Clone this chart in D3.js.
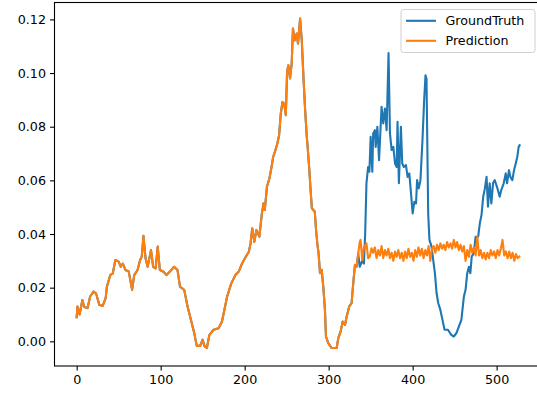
<!DOCTYPE html>
<html>
<head>
<meta charset="utf-8">
<script src="https://cdn.jsdelivr.net/npm/d3@7"></script>
<style>
  body { margin: 0; background: #fff; }
  svg { display: block; }
  text { font-family: "DejaVu Sans", sans-serif; }
</style>
</head>
<body>
<div id="chart"></div>
<script>
// shared stretch: both series lie on top of each other up to ~x=335
var sharedX = [0, 1, 3.5, 6.8, 9, 13, 16, 20, 23, 27, 31, 34.5, 36, 40, 43, 46, 50, 52.5, 55, 58,
  62, 66, 68.5, 72.5, 75.5, 77.5, 79.5, 82, 84.5, 88.5, 91, 94, 96.5, 99, 103, 107, 111, 116, 120, 123,
  128, 132, 136, 140, 143, 147, 150, 152, 155, 158, 163, 169, 173, 179, 184, 189, 193, 197, 201, 205,
  207, 209, 211.5, 214, 217.5, 220.5, 222.5, 224, 226.5, 229.5, 232, 234, 236, 239, 241, 243, 245, 247, 249, 250.5,
  252, 254, 256, 257.5, 259.5, 262, 263.5, 266, 268, 270, 272, 274, 275, 277, 278.5, 280, 283.5, 285, 286.5, 288,
  289.7, 291.7, 293.6, 295.6, 296.8, 299.5, 303.6, 309.5, 311.5, 314.3, 316.7, 319.5, 321.4, 324.5, 327.3, 329.3, 331.3, 333.3, 335.2];
var sharedY = [0.009, 0.013, 0.010, 0.0154, 0.0128, 0.0124, 0.0167, 0.0185, 0.0179, 0.0136, 0.0132, 0.0161, 0.0204, 0.0247, 0.0253, 0.0303, 0.0297, 0.0278, 0.029, 0.0266,
  0.026, 0.0192, 0.0247, 0.0266, 0.0303, 0.0316, 0.0393, 0.031, 0.0278, 0.034, 0.0278, 0.0272, 0.0353, 0.0266, 0.026, 0.0247, 0.026, 0.0278, 0.0266, 0.0204,
  0.0192, 0.013, 0.008, 0.003, -0.0017, -0.0017, 0.0006, -0.0017, -0.0025, 0.0024, 0.0043, 0.0049, 0.0074, 0.0165, 0.0215, 0.0247, 0.026, 0.0291, 0.0313, 0.0334,
  0.0365, 0.0421, 0.0371, 0.0415, 0.039, 0.0477, 0.0514, 0.049, 0.0576, 0.0607, 0.065, 0.0688, 0.0706, 0.0738, 0.0768, 0.0849, 0.0892, 0.0886, 0.0843, 0.1004,
  0.1029, 0.098, 0.1035, 0.1166, 0.1122, 0.1147, 0.111, 0.1203, 0.1122, 0.0985, 0.0862, 0.0762, 0.0725, 0.0638, 0.0564, 0.0496, 0.0483, 0.0415, 0.0365, 0.0328,
  0.0254, 0.0266, 0.0204, 0.0117, 0.0018, -0.0007, -0.0025, -0.0025, 0.0012, 0.0037, 0.0074, 0.0061, 0.0092, 0.013, 0.0142, 0.0217, 0.0285, 0.0278, 0.0328];

// ground truth after the split
var truthX = [337, 340, 342, 343.5, 345, 347, 348.5, 350, 352, 353, 355, 356, 358, 360, 363, 365, 367, 369, 371.3, 373,
  375, 377, 379, 381, 382, 383.6, 386, 387.6, 389.5, 392, 394, 396, 397.4, 400, 402, 404, 405.3, 407.3, 409.3, 411.7,
  413.7, 415.3, 416.5, 418.5, 420, 422.5, 424.5, 426.5, 428.5, 430.5, 433, 435.5, 438, 442, 446, 449, 452, 455, 458, 461,
  463, 465, 467, 468.7, 470.3, 472.7, 475, 478, 480, 482, 484, 486, 488, 489.7, 491.7, 493.7, 495.7, 497.7, 500.4, 503.6,
  505.5, 508.4, 510.8, 512.4, 514.7, 516.3, 518.7, 520.7, 522.7, 524.6, 526.2, 527.4];
var truthY = [0.0278, 0.030, 0.029, 0.0403, 0.0589, 0.065, 0.0632, 0.0762, 0.0632, 0.0775, 0.0787, 0.0725, 0.080, 0.0675, 0.0874, 0.0812, 0.0868, 0.0787, 0.1075, 0.0775,
  0.0713, 0.0725, 0.0663, 0.065, 0.0818, 0.0589, 0.080, 0.0663, 0.065, 0.0657, 0.0613, 0.0626, 0.0576, 0.0477, 0.052, 0.0514, 0.0601, 0.057, 0.0601, 0.075,
  0.0899, 0.0992, 0.0979, 0.0477, 0.0378, 0.0353, 0.0303, 0.0254, 0.0179, 0.0142, 0.0117, 0.008, 0.0043, 0.0043, 0.0024, 0.0018, 0.003, 0.0055, 0.008, 0.0167,
  0.0192, 0.0254, 0.0278, 0.0254, 0.0316, 0.0328, 0.039, 0.039, 0.044, 0.0471, 0.0539, 0.057, 0.0613, 0.0502, 0.0589, 0.0514, 0.0589, 0.0601, 0.0576, 0.0539,
  0.0564, 0.0589, 0.0626, 0.0589, 0.0638, 0.0613, 0.0601, 0.0638, 0.0663, 0.0688, 0.0725, 0.0731];

// prediction after the split
var predX = [337, 338, 340, 342, 345, 347, 349, 351, 353, 355, 357, 359, 361, 363, 365, 367, 369, 371, 373, 375,
  377, 379, 381, 383, 385, 387, 389, 391, 393, 395, 397, 399, 401, 403, 405, 407, 409, 411, 413, 415,
  417, 419, 421, 423, 425, 427, 429, 431, 433, 435, 437, 439, 441, 443, 445, 447, 449, 451, 453, 455,
  457, 459, 461, 463, 465, 467, 469, 471, 473, 475, 477, 479, 481, 483, 485, 487, 489, 491, 493, 495,
  497, 499, 501, 503, 505, 507, 509, 511, 513, 515, 517, 519, 521, 523, 525, 527];
var predY = [0.037, 0.0378, 0.0303, 0.035, 0.0365, 0.031, 0.0316, 0.0347, 0.033, 0.035, 0.031, 0.034, 0.032, 0.0355, 0.031, 0.034, 0.032, 0.0345, 0.031, 0.033,
  0.030, 0.0335, 0.0315, 0.034, 0.031, 0.033, 0.030, 0.0335, 0.031, 0.0345, 0.0315, 0.033, 0.030, 0.034, 0.0315, 0.035, 0.032, 0.0345, 0.031, 0.034,
  0.032, 0.0355, 0.030, 0.0345, 0.0355, 0.033, 0.036, 0.034, 0.0365, 0.0345, 0.036, 0.034, 0.037, 0.035, 0.0365, 0.0345, 0.0378, 0.035, 0.037, 0.034,
  0.036, 0.0335, 0.0355, 0.030, 0.034, 0.0315, 0.036, 0.033, 0.035, 0.032, 0.039, 0.032, 0.034, 0.031, 0.033, 0.0305, 0.033, 0.031, 0.034, 0.032,
  0.0335, 0.031, 0.034, 0.032, 0.0345, 0.0378, 0.032, 0.0335, 0.031, 0.0335, 0.031, 0.033, 0.030, 0.0325, 0.031, 0.0316];

var xTicks = [0, 100, 200, 300, 400, 500];
var yTicks = [0.00, 0.02, 0.04, 0.06, 0.08, 0.10, 0.12];
var seriesNames = ["GroundTruth", "Prediction"];
var seriesColors = ["#1f77b4", "#ff7f0e"];

var width = 537, height = 393;
var margin = { left: 54.5, right: 542, top: 2.5, bottom: 366 };

function zip(xs, ys) {
  return xs.map(function (x, i) { return { x: x, y: ys[i] }; });
}
var shared = zip(sharedX, sharedY);
var truth = shared.concat(zip(truthX, truthY));
var pred = shared.concat(zip(predX, predY));

var x = d3.scaleLinear().domain([-26.4, 554]).range([margin.left, margin.right]);
var y = d3.scaleLinear().domain([-0.0092, 0.1263]).range([margin.bottom, margin.top]);

var svg = d3.select("#chart").append("svg")
  .attr("width", width)
  .attr("height", height);

svg.append("defs").append("clipPath").attr("id", "plotClip")
  .append("rect")
  .attr("x", margin.left).attr("y", margin.top)
  .attr("width", margin.right - margin.left).attr("height", margin.bottom - margin.top);

var line = d3.line()
  .x(function (d) { return x(d.x); })
  .y(function (d) { return y(d.y); });

var plot = svg.append("g").attr("clip-path", "url(#plotClip)");
[truth, pred].forEach(function (s, i) {
  plot.append("path")
    .datum(s)
    .attr("fill", "none")
    .attr("stroke", seriesColors[i])
    .attr("stroke-width", 2.1)
    .attr("stroke-linejoin", "round")
    .attr("stroke-linecap", "square")
    .attr("d", line);
});

// axes
var xAxis = svg.append("g")
  .attr("transform", "translate(0," + margin.bottom + ")")
  .call(d3.axisBottom(x).tickValues(xTicks).tickSize(4.5).tickPadding(4).tickFormat(d3.format("d")));
var yAxis = svg.append("g")
  .attr("transform", "translate(" + margin.left + ",0)")
  .call(d3.axisLeft(y).tickValues(yTicks).tickSize(4.5).tickPadding(4).tickFormat(d3.format(".2f")));

[xAxis, yAxis].forEach(function (g) {
  g.select(".domain").remove();
  g.selectAll(".tick line").attr("stroke", "#000").attr("stroke-width", 1.1);
  g.selectAll(".tick text")
    .attr("fill", "#000")
    .style("font-size", "12.7px")
    .style("font-family", "DejaVu Sans");
});

// spines
svg.append("rect")
  .attr("x", margin.left).attr("y", margin.top)
  .attr("width", margin.right - margin.left).attr("height", margin.bottom - margin.top)
  .attr("fill", "none")
  .attr("stroke", "#000")
  .attr("stroke-width", 1.1);

// legend
var legend = svg.append("g").attr("transform", "translate(401,9.5)");
legend.append("rect")
  .attr("width", 134).attr("height", 43)
  .attr("rx", 2.5)
  .attr("fill", "#fff")
  .attr("fill-opacity", 0.8)
  .attr("stroke", "#d0d0d0")
  .attr("stroke-width", 1);

seriesNames.forEach(function (name, i) {
  var cy = 11.3 + i * 20;
  legend.append("line")
    .attr("x1", 5).attr("x2", 35)
    .attr("y1", cy).attr("y2", cy)
    .attr("stroke", seriesColors[i])
    .attr("stroke-width", 2.1);
  legend.append("text")
    .attr("x", 44.5)
    .attr("y", cy)
    .attr("dy", "0.35em")
    .style("font-size", "12.7px")
    .text(name);
});
</script>
</body>
</html>
